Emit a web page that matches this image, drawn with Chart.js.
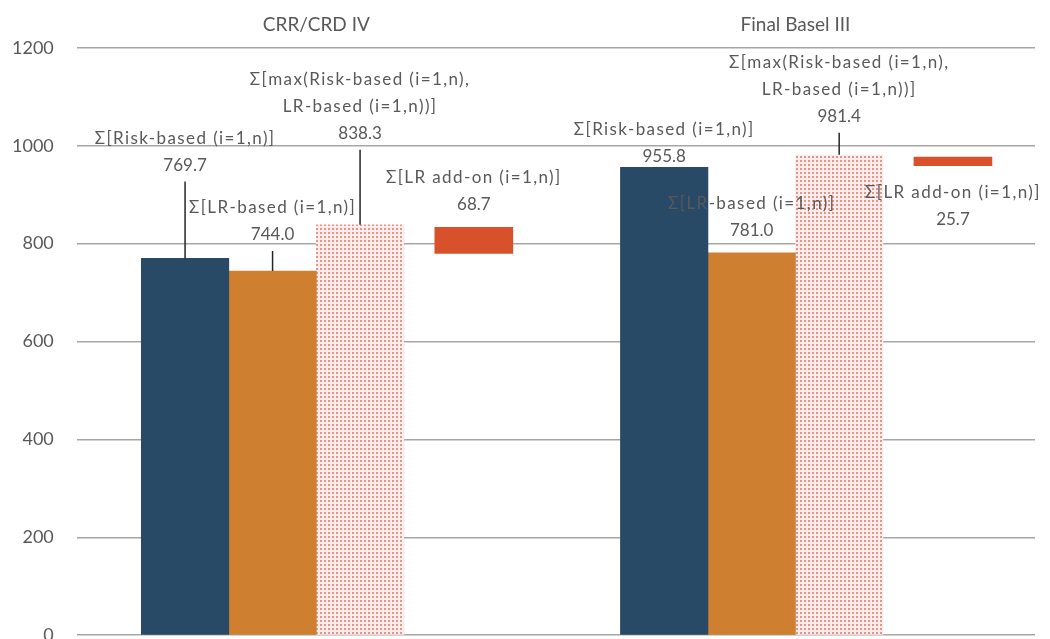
<!DOCTYPE html>
<html>
<head>
<meta charset="utf-8">
<script src="https://cdn.jsdelivr.net/npm/chart.js@4.4.1/dist/chart.umd.min.js"></script>
<style>
  html, body { margin: 0; padding: 0; background: #fff; overflow: hidden; }
  #wrap { width: 1050px; height: 646px; position: relative; }
</style>
</head>
<body>
<div id="wrap"><canvas id="chart"></canvas></div>
<script>
// Values
const categories = ['CRR/CRD IV', 'Final Basel III'];
const riskBased = [769.7, 955.8];
const lrBased = [744.0, 781.0];
const maxBased = [838.3, 981.4];
const addOn = [68.7, 25.7];
const addOnLow = [780, 959];   // where the red add-on bar sits on the axis
const addOnHigh = [833, 977];
const yTicks = [0, 200, 400, 600, 800, 1000, 1200];

const textColor = '#595959';
const fontFamily = 'Lato, "Open Sans", sans-serif';

// dotted fill for the max bar
function dotPattern() {
    const c = document.createElement('canvas');
    c.width = 4; c.height = 4;
    const g = c.getContext('2d');
    g.fillStyle = '#fcedeb';
    g.fillRect(0, 0, 4, 4);
    g.fillStyle = '#e4958e';
    g.fillRect(0, 0, 2, 2);
    return g.createPattern(c, 'repeat');
}

// callout labels: name lines, then the value; dy = offset of the value line from the bar top (px)
const labelNames = [
    ['Σ[Risk-based (i=1,n)]'],
    ['Σ[LR-based (i=1,n)]'],
    ['Σ[max(Risk-based (i=1,n),', 'LR-based (i=1,n))]'],
    ['Σ[LR add-on (i=1,n)]']
];
const labelLayout = [
    [{ dy: -93, leader: true }, { dy: -11 }],
    [{ dy: -36, leader: true }, { dy: -22 }],
    [{ dy: -91, leader: true }, { dy: -38, leader: true }],
    [{ dy: -23 }, { dy: 54, fromBottom: true }]
];
const labelValues = [riskBased, lrBased, maxBased, addOn];

const labelPlugin = {
    id: 'calloutLabels',
    afterDatasetsDraw(chart) {
        const ctx = chart.ctx;
        const lineGap = 27;
        ctx.save();
        ctx.font = '17px ' + fontFamily;
        ctx.fillStyle = textColor;
        ctx.textAlign = 'center';
        ctx.textBaseline = 'middle';
        labelLayout.forEach((layout, di) => {
            const meta = chart.getDatasetMeta(di);
            meta.data.forEach((bar, i) => {
                const spec = layout[i];
                const top = Math.min(bar.y, bar.base);
                const bottom = Math.max(bar.y, bar.base);
                const vy = (spec.fromBottom ? bottom : top) + spec.dy;
                const names = labelNames[di];
                ctx.letterSpacing = '1.4px';
                names.forEach((t, k) => {
                    ctx.fillText(t, bar.x, vy - lineGap * (names.length - k));
                });
                ctx.letterSpacing = '0px';
                ctx.fillText(labelValues[di][i].toFixed(1), bar.x, vy);
                if (spec.leader) {
                    ctx.strokeStyle = '#262626';
                    ctx.lineWidth = 1.5;
                    ctx.beginPath();
                    ctx.moveTo(bar.x, vy + 16);
                    ctx.lineTo(bar.x, top);
                    ctx.stroke();
                }
            });
        });
        ctx.restore();
    }
};

new Chart(document.getElementById('chart'), {
    type: 'bar',
    data: {
        labels: categories,
        datasets: [
            { label: 'Risk-based', data: riskBased, backgroundColor: '#294a66', barThickness: 87.5 },
            { label: 'LR-based', data: lrBased, backgroundColor: '#cf7f30', barThickness: 87.5 },
            { label: 'max', data: maxBased, backgroundColor: dotPattern(), barThickness: 87.5 },
            {
                label: 'LR add-on',
                data: addOnLow.map((lo, i) => [lo, addOnHigh[i]]),
                backgroundColor: '#d8512a',
                // wider slot pushes the bar right of the group, drawn width capped
                barThickness: 105,
                maxBarThickness: 78
            }
        ]
    },
    options: {
        responsive: true,
        maintainAspectRatio: false,
        animation: false,
        layout: { padding: { top: 2, right: 15, left: 12, bottom: 0 } },
        plugins: { legend: { display: false }, tooltip: { enabled: false } },
        scales: {
            x: {
                position: 'top',
                grid: { display: false, drawTicks: false },
                border: { display: false },
                ticks: { color: textColor, font: { family: fontFamily, size: 19 }, padding: 11.5 }
            },
            y: {
                min: 0,
                max: 1200,
                afterBuildTicks: (axis) => { axis.ticks = yTicks.map(v => ({ value: v })); },
                grid: { color: '#a6a6a6', lineWidth: 1.5, drawTicks: true, tickLength: 23, tickColor: 'rgba(0,0,0,0)' },
                border: { display: false },
                ticks: {
                    color: textColor,
                    font: { family: fontFamily, size: 18 },
                    padding: 0,
                    callback: (v) => String(v)
                }
            }
        }
    },
    plugins: [labelPlugin]
});
</script>
</body>
</html>
